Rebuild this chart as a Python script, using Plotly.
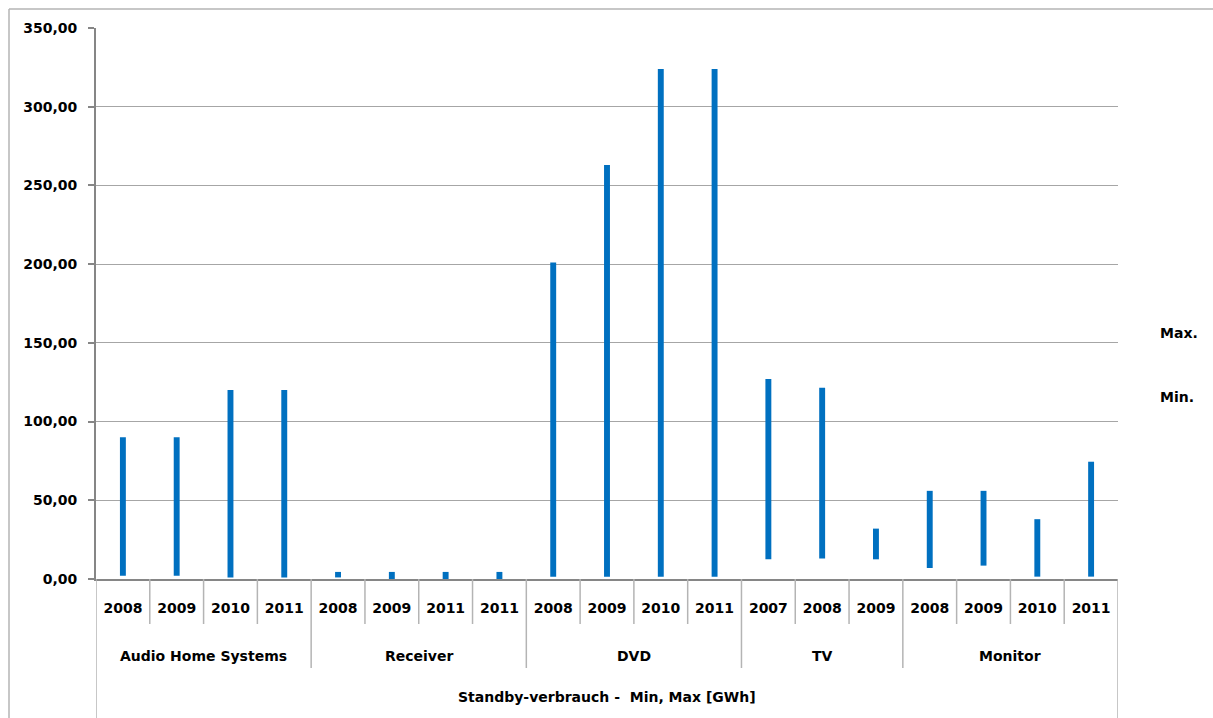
import plotly.graph_objects as go

# ---- data ----
groups = ["Audio Home Systems", "Receiver", "DVD", "TV", "Monitor"]
group_sizes = [4, 4, 4, 3, 4]
years = ["2008", "2009", "2010", "2011",
         "2008", "2009", "2011", "2011",
         "2008", "2009", "2010", "2011",
         "2007", "2008", "2009",
         "2008", "2009", "2010", "2011"]
max_vals = [90, 90, 120, 120,
            4.5, 4.5, 4.5, 4.5,
            201, 263, 324, 324,
            127, 121.5, 32,
            56, 56, 38, 74.5]
min_vals = [2, 2, 1, 1,
            1, 0, 0, 0,
            1.5, 1.5, 1.5, 1.5,
            12.5, 13, 12.5,
            7, 8.5, 1.5, 1.5]
y_ticks = [0, 50, 100, 150, 200, 250, 300, 350]
x_title = "Standby-verbrauch -  Min, Max [GWh]"
legend_labels = ["Max.", "Min."]

FONT = "DejaVu Sans"
BAR_COLOR = "#0070C0"
GRID = "#A6A6A6"
AXIS = "#868686"
SEP = "#B4B4B4"

n = len(years)
xs = list(range(n))

W, H = 1213, 718
L, R, T, B = 96, 95, 28, 139
plot_h = H - T - B
plot_w = W - L - R


def py(pix):
    return (H - B - pix) / plot_h


def px(pix):
    return (pix - L) / plot_w


fig = go.Figure()
fig.add_trace(go.Bar(
    x=xs,
    y=[mx - mn for mx, mn in zip(max_vals, min_vals)],
    base=min_vals,
    width=0.11,
    marker=dict(color=BAR_COLOR, line=dict(width=0)),
    showlegend=False,
    customdata=list(zip(min_vals, max_vals)),
    hovertemplate="Min: %{customdata[0]}<br>Max: %{customdata[1]}<extra></extra>",
))

shapes = []
group_bounds = []
acc = 0
for s in group_sizes:
    acc += s
    group_bounds.append(acc - 0.5)
group_bounds = group_bounds[:-1]

for i in range(n - 1):
    b = i + 0.5
    y1 = py(668) if b in group_bounds else py(624)
    shapes.append(dict(type="line", xref="x", yref="paper", x0=b, x1=b,
                       y0=0, y1=y1, line=dict(color=SEP, width=1.5)))
for b in [-0.5, n - 0.5]:
    shapes.append(dict(type="line", xref="x", yref="paper", x0=b, x1=b,
                       y0=0, y1=py(718), line=dict(color=SEP, width=1.5)))
# outer chart frame (top and left)
shapes.append(dict(type="line", xref="paper", yref="paper", x0=px(9), x1=px(1213),
                   y0=py(9), y1=py(9), line=dict(color=SEP, width=1.5)))
shapes.append(dict(type="line", xref="paper", yref="paper", x0=px(9), x1=px(9),
                   y0=py(9), y1=py(718), line=dict(color=SEP, width=1.5)))

annotations = []
start = 0
for g, s in zip(groups, group_sizes):
    center = start + (s - 1) / 2
    annotations.append(dict(x=center, y=py(656), xref="x", yref="paper",
                            text=g, showarrow=False, xanchor="center", yanchor="middle",
                            font=dict(family=FONT, size=14, color="#000000", weight="bold")))
    start += s
annotations.append(dict(x=0.5, y=py(697), xref="paper", yref="paper",
                        text=x_title, showarrow=False, xanchor="center", yanchor="middle",
                        font=dict(family=FONT, size=14, color="#000000", weight="bold")))
for lab, pyy in zip(legend_labels, [333, 397]):
    annotations.append(dict(x=px(1158), y=py(pyy), xref="paper", yref="paper",
                            text=lab, showarrow=False, xanchor="left", yanchor="middle",
                            font=dict(family=FONT, size=14, color="#000000", weight="bold")))

fig.update_layout(
    width=W, height=H,
    margin=dict(l=L, r=R, t=T, b=B, autoexpand=False),
    paper_bgcolor="white", plot_bgcolor="white",
    separators=", ",
    shapes=shapes,
    annotations=annotations,
    showlegend=False,
    xaxis=dict(
        range=[-0.5, n - 0.5],
        tickmode="array", tickvals=xs, ticktext=years,
        ticks="", ticklabelstandoff=15,
        tickfont=dict(family=FONT, size=14, color="#000000", weight="bold"),
        showgrid=False, zeroline=False,
        showline=True, linecolor=AXIS, linewidth=2,
        fixedrange=True,
    ),
    yaxis=dict(
        range=[0, 350],
        tickmode="array", tickvals=y_ticks, tickformat=".2f",
        ticks="outside", ticklen=6, tickcolor=AXIS, tickwidth=1.5,
        ticklabelstandoff=8,
        tickfont=dict(family=FONT, size=14, color="#000000", weight="bold"),
        showgrid=True, gridcolor=GRID, gridwidth=1.2,
        zeroline=False,
        showline=True, linecolor=AXIS, linewidth=2,
        fixedrange=True,
    ),
)

fig.write_html(
    "out.html",
    config={"displayModeBar": False},
    post_script="document.body.style.margin='0';document.body.style.padding='0';",
)
